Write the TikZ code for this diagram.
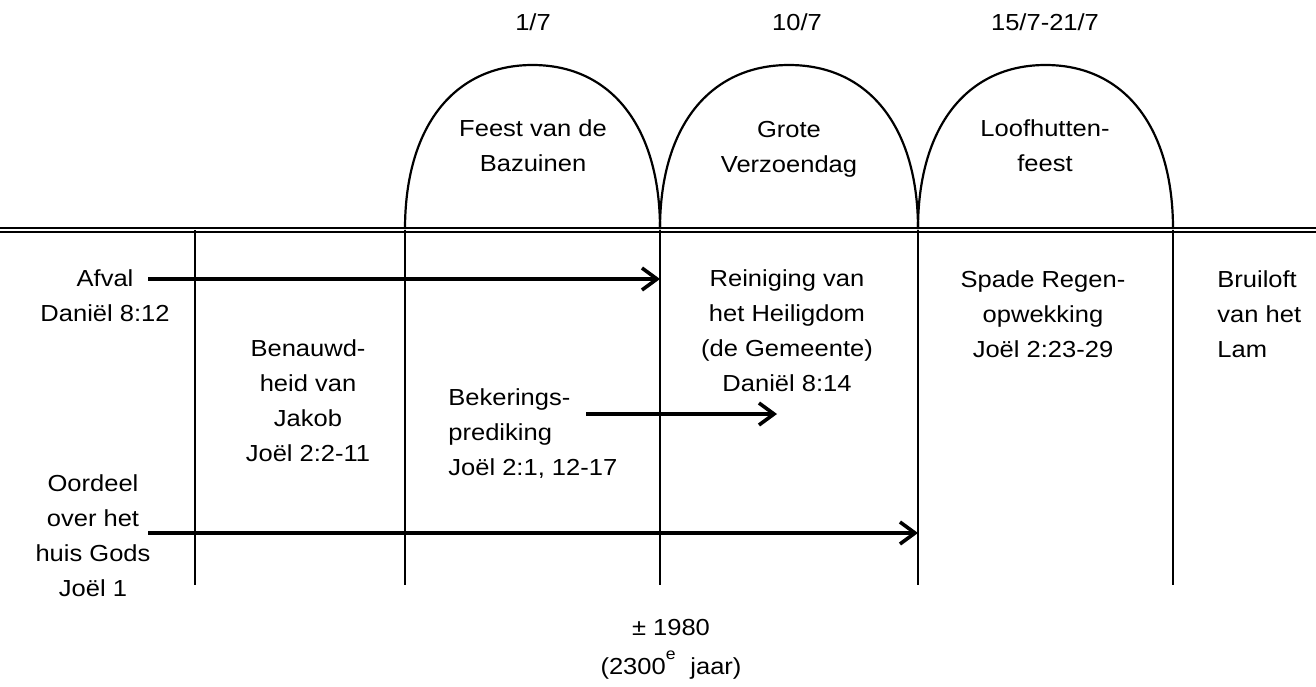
\documentclass[tikz,border=0pt]{standalone}
\usepackage{fontspec}
\setmainfont{Liberation Sans}[FakeStretch=1.1]
\usetikzlibrary{arrows.meta}
\begin{document}
\begin{tikzpicture}[x=0.5pt,y=-0.5pt,
  txt/.style={inner sep=0pt, align=center, font=\fontsize{11.6}{17.5}\selectfont},
  txtl/.style={txt, align=left, anchor=west},
  vline/.style={line width=1.1pt},
  arr/.style={line width=1.8pt, -{Straight Barb[length=7.5pt,width=11pt]}},
  archline/.style={line width=1.1pt},
  rail/.style={line width=0.8pt}]
\useasboundingbox (0,0) rectangle (1316,686);

% rails
\coordinate (railLa) at (0,228);
\coordinate (railRa) at (1316,228);
\coordinate (railLb) at (0,232);
\coordinate (railRb) at (1316,232);
\draw[rail] (railLa) -- (railRa);
\draw[rail] (railLb) -- (railRb);

% vertical lines
\foreach \n/\x in {v1/195, v2/405, v3/660, v4/918, v5/1173}{
  \coordinate (\n top) at (\x,230);
  \coordinate (\n bot) at (\x,585);
  \draw[vline] (\n top) -- (\n bot);
}

% arches
\coordinate (a0) at (405,229);
\coordinate (a1) at (660,229);
\coordinate (a2) at (918,229);
\coordinate (a3) at (1173,229);
\draw[archline] (a0) .. controls (405,127.3) and (453.5,65) .. (532.5,65)
  .. controls (611.5,65) and (660,127.3) .. (a1);
\draw[archline] (a1) .. controls (660,127.3) and (709,65) .. (789,65)
  .. controls (869,65) and (918,127.3) .. (a2);
\draw[archline] (a2) .. controls (918,127.3) and (966.5,65) .. (1045.5,65)
  .. controls (1124.5,65) and (1173,127.3) .. (a3);

% dates
\node[txt] (d1) at (533,22) {1/7};
\node[txt] (d2) at (797,22) {10/7};
\node[txt] (d3) at (1045,22) {15/7-21/7};

% feast names
\node[txt] (f1) at (533,146) {Feest van de\\Bazuinen};
\node[txt] (f2) at (789,149) {Grote\\Verzoendag};
\node[txt] (f3) at (1045,146) {Loofhutten-\\feest};

% texts below
\node[txt] (afval) at (105,296) {Afval\\Daniël 8:12};
\node[txt] (benauwd) at (308,401) {Benauwd-\\heid van\\Jakob\\Joël 2:2-11};
\node[txtl] (bekering) at (448,434) {Bekerings-\\prediking\\Joël 2:1, 12-17};
\node[txt] (reiniging) at (787,331) {Reiniging van\\het Heiligdom\\(de Gemeente)\\Daniël 8:14};
\node[txt] (spade) at (1043,314) {Spade Regen-\\opwekking\\Joël 2:23-29};
\node[txtl] (bruiloft) at (1217,314) {Bruiloft\\van het\\Lam};
\node[txt] (oordeel) at (93,536) {Oordeel\\over het\\huis Gods\\Joël 1};
\node[txt] (jaar) at (671,649) {± 1980\\[2pt](2300\raisebox{1.2ex}{\fontsize{8}{8}\selectfont e}\,\, jaar)};

% arrows
\coordinate (afvalS) at (148,279);
\coordinate (afvalE) at (660,279);
\coordinate (bekS) at (586,414);
\coordinate (bekE) at (777,414);
\coordinate (oordS) at (148,533);
\coordinate (oordE) at (918,533);
\draw[arr] (afvalS) -- (afvalE);
\draw[arr] (bekS) -- (bekE);
\draw[arr] (oordS) -- (oordE);
\end{tikzpicture}
\end{document}
